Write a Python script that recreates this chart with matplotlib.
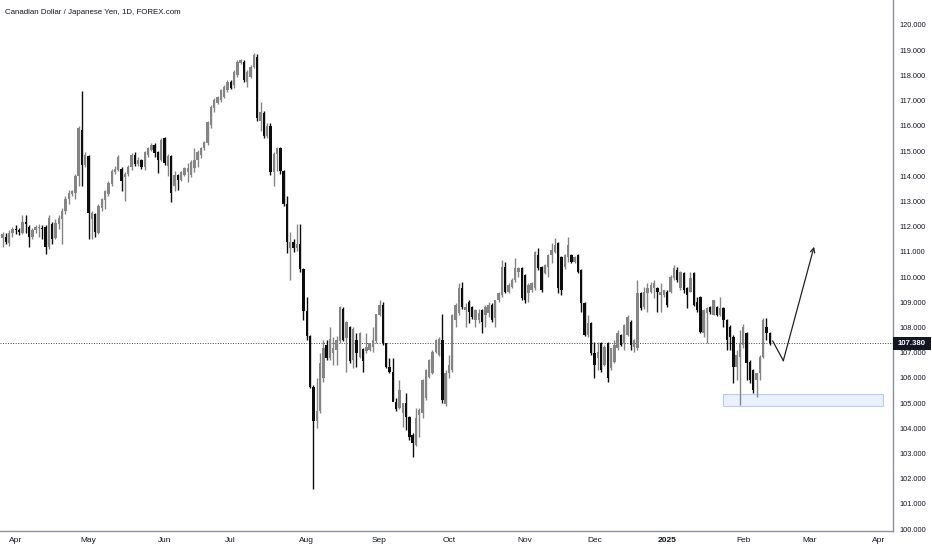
import numpy as np
import pandas as pd
import matplotlib
matplotlib.use("Agg")
import matplotlib.pyplot as plt
from matplotlib.patches import Rectangle

plt.rcParams['font.family'] = ['Liberation Sans', 'DejaVu Sans']

title = "Canadian Dollar / Japanese Yen, 1D, FOREX.com"
first_day = "2024-03-26"

# daily candles, one per weekday starting at first_day
opens = [111.55, 111.60, 111.35, 111.75, 111.90, 111.85, 111.75, 112.20, 112.00, 111.60,
         111.85, 111.95, 111.95, 112.00, 111.20, 112.10, 111.55, 112.10, 112.30, 112.60,
         113.10, 113.30, 113.35, 114.00, 115.85, 114.45, 114.80, 112.30, 112.50, 111.75,
         112.75, 113.05, 113.30, 113.70, 114.15, 114.25, 114.30, 113.95, 114.10, 114.35,
         114.84, 114.50, 114.64, 114.38, 114.84, 115.04, 115.24, 114.97, 114.64, 115.50,
         114.40, 114.80, 113.60, 114.05, 113.85, 114.05, 114.18, 114.05, 114.31, 114.64,
         114.84, 115.10, 115.30, 116.03, 116.69, 116.89, 117.02, 117.16, 117.42, 117.75,
         117.62, 118.02, 118.48, 118.55, 117.75, 117.95, 118.35, 118.74, 116.20, 116.50,
         115.60, 116.00, 114.15, 114.90, 115.10, 114.20, 112.90, 111.15, 111.40, 111.15,
         111.30, 110.30, 108.65, 107.65, 105.65, 104.30, 104.70, 106.00, 107.30, 106.77,
         106.97, 107.10, 107.45, 108.75, 107.57, 108.00, 106.70, 107.50, 106.84, 107.15,
         107.05, 107.10, 107.23, 107.45, 108.49, 108.89, 107.37, 106.44, 106.24, 105.05,
         104.79, 104.62, 104.99, 104.46, 103.73, 103.33, 104.52, 104.59, 105.18, 106.05,
         106.18, 107.03, 106.90, 107.50, 104.95, 106.20, 106.30, 108.29, 108.56, 109.55,
         108.69, 109.02, 108.82, 108.29, 108.29, 108.69, 108.49, 108.56, 108.89, 108.36,
         109.09, 109.29, 110.41, 109.42, 109.62, 109.88, 110.21, 110.34, 110.08, 109.35,
         109.48, 109.55, 110.87, 110.41, 110.15, 110.41, 110.87, 111.00, 111.34, 110.81,
         110.41, 110.81, 110.87, 110.61, 110.87, 110.28, 108.95, 107.70, 108.17, 106.97,
         106.77, 107.37, 106.51, 107.37, 106.37, 106.64, 107.17, 107.70, 107.37, 107.70,
         108.23, 107.24, 107.17, 109.35, 108.82, 109.35, 109.42, 109.55, 109.55, 109.29,
         109.29, 109.42, 109.42, 109.95, 110.28, 109.55, 110.15, 109.55, 109.42, 110.15,
         109.00, 109.22, 107.76, 108.56, 108.82, 108.49, 108.82, 108.49, 108.76, 108.29,
         108.03, 107.63, 106.44, 106.84, 107.30, 107.76, 106.64, 106.31, 105.91, 106.18,
         106.84, 108.03, 107.76]
highs = [111.80, 111.75, 111.85, 112.00, 112.05, 111.95, 112.45, 112.45, 112.05, 111.95,
         112.05, 112.10, 112.05, 112.05, 112.45, 112.20, 112.30, 112.45, 112.75, 113.20,
         113.45, 113.45, 114.10, 116.00, 117.40, 114.95, 114.85, 112.60, 112.55, 112.90,
         113.15, 113.45, 113.80, 114.30, 114.40, 114.85, 114.35, 114.15, 114.45, 114.91,
         114.95, 114.75, 114.70, 115.00, 115.15, 115.30, 115.30, 115.00, 115.50, 115.55,
         114.90, 114.85, 114.20, 114.10, 114.20, 114.35, 114.51, 114.64, 115.10, 115.04,
         115.17, 115.40, 116.20, 116.82, 117.09, 117.20, 117.45, 117.60, 117.80, 117.80,
         118.21, 118.60, 118.65, 118.60, 118.20, 118.40, 118.88, 118.85, 116.95, 116.60,
         116.10, 116.10, 114.95, 115.15, 115.15, 114.25, 113.20, 111.80, 111.50, 112.10,
         112.10, 110.35, 109.20, 107.70, 105.70, 106.00, 107.00, 107.50, 107.50, 108.03,
         107.60, 107.65, 108.85, 108.80, 108.25, 108.05, 108.00, 107.76, 107.80, 107.20,
         107.76, 107.40, 108.03, 108.55, 109.09, 109.02, 107.40, 106.77, 106.77, 105.20,
         105.90, 105.00, 105.38, 104.50, 103.80, 104.79, 104.80, 105.95, 106.35, 106.75,
         107.10, 107.55, 107.60, 108.55, 106.30, 106.90, 108.55, 108.95, 109.75, 109.80,
         108.95, 109.09, 108.85, 108.75, 108.75, 108.75, 108.90, 109.02, 108.95, 109.10,
         109.40, 110.67, 110.60, 109.75, 109.95, 110.74, 110.41, 110.40, 110.10, 109.75,
         109.82, 111.05, 111.14, 110.45, 110.50, 110.90, 111.34, 111.53, 111.40, 110.85,
         110.90, 111.60, 110.90, 110.85, 110.90, 110.30, 109.02, 108.49, 108.20, 107.44,
         107.44, 107.44, 107.30, 107.44, 107.20, 107.50, 107.90, 107.75, 108.15, 108.50,
         108.30, 107.55, 109.88, 109.40, 109.62, 109.75, 109.82, 109.88, 109.60, 109.75,
         109.50, 109.50, 110.08, 110.48, 110.41, 110.25, 110.20, 109.60, 110.21, 110.20,
         109.20, 109.25, 108.75, 108.82, 108.85, 109.10, 108.85, 109.22, 108.80, 108.35,
         108.10, 107.70, 107.10, 107.90, 108.15, 107.80, 106.70, 106.35, 106.20, 106.90,
         108.36, 108.36, 107.80]
lows = [111.20, 111.30, 111.25, 111.60, 111.70, 111.65, 111.70, 111.75, 111.20, 111.50,
        111.75, 111.60, 111.50, 110.90, 111.10, 111.30, 111.50, 111.90, 111.30, 112.50,
        112.90, 113.20, 113.10, 113.60, 113.60, 114.35, 111.50, 111.50, 111.60, 111.70,
        112.60, 112.70, 113.20, 113.60, 114.10, 114.20, 113.40, 113.00, 114.00, 114.25,
        114.40, 114.40, 114.30, 114.25, 114.75, 115.00, 114.77, 114.11, 114.60, 114.45,
        114.00, 112.99, 113.40, 113.45, 113.80, 114.00, 113.78, 113.98, 114.18, 114.38,
        114.71, 115.05, 115.25, 115.90, 116.56, 116.85, 116.95, 117.10, 117.35, 117.45,
        117.49, 117.95, 118.45, 117.75, 117.55, 117.90, 118.30, 116.20, 115.80, 115.50,
        115.50, 114.05, 113.60, 114.20, 114.10, 112.80, 110.95, 109.90, 111.00, 111.05,
        110.20, 108.30, 107.50, 105.60, 101.60, 104.00, 104.60, 105.85, 106.70, 106.70,
        106.50, 106.50, 107.40, 107.45, 106.25, 106.57, 106.40, 106.44, 106.80, 106.25,
        107.00, 107.05, 107.03, 107.40, 108.45, 107.30, 106.40, 106.18, 105.10, 104.70,
        104.75, 104.06, 103.93, 103.53, 102.87, 103.30, 103.66, 104.40, 105.10, 106.00,
        106.15, 107.00, 106.85, 105.00, 104.90, 106.00, 106.25, 108.03, 108.50, 108.75,
        108.03, 108.16, 108.35, 108.03, 108.16, 107.76, 108.03, 108.43, 108.23, 108.03,
        109.00, 109.20, 109.35, 109.35, 109.55, 109.80, 110.01, 109.10, 108.95, 109.02,
        109.40, 109.50, 110.28, 109.40, 110.10, 110.01, 110.54, 110.95, 109.35, 109.29,
        110.30, 110.60, 110.55, 110.55, 110.15, 108.62, 107.65, 107.60, 106.90, 105.98,
        106.31, 106.24, 106.45, 105.85, 106.30, 106.60, 107.10, 107.25, 107.10, 107.65,
        107.10, 107.04, 107.10, 108.70, 108.75, 108.62, 109.35, 109.15, 108.62, 108.62,
        109.20, 108.82, 109.35, 109.90, 109.80, 109.50, 109.35, 108.76, 109.40, 108.85,
        108.60, 107.76, 107.63, 107.37, 108.55, 108.49, 108.45, 108.45, 108.00, 107.10,
        107.10, 105.78, 105.90, 104.92, 107.20, 105.91, 105.78, 105.38, 105.25, 105.91,
        106.80, 107.50, 107.30]
closes = [111.70, 111.40, 111.75, 111.90, 111.85, 111.80, 112.20, 112.10, 111.60, 111.85,
          112.00, 112.00, 111.90, 111.20, 112.35, 111.50, 112.15, 112.35, 112.60, 113.10,
          113.35, 113.40, 114.00, 115.90, 114.45, 114.85, 112.55, 112.55, 111.80, 112.80,
          113.10, 113.40, 113.75, 114.20, 114.30, 114.75, 113.80, 114.10, 114.35, 114.84,
          114.50, 114.64, 114.38, 114.97, 115.10, 115.24, 114.91, 114.64, 115.44, 114.51,
          114.80, 113.32, 114.05, 113.85, 114.18, 114.31, 114.31, 114.58, 114.64, 114.97,
          115.10, 115.37, 116.16, 116.76, 117.02, 117.16, 117.42, 117.55, 117.75, 117.49,
          118.15, 118.55, 118.61, 117.82, 118.15, 118.35, 118.81, 116.30, 116.55, 115.60,
          116.00, 114.15, 114.90, 115.10, 114.20, 112.90, 111.40, 111.40, 111.15, 111.30,
          110.30, 108.65, 107.65, 105.65, 104.30, 104.70, 106.60, 107.20, 106.77, 107.55,
          107.20, 107.50, 108.82, 107.50, 108.20, 106.65, 107.95, 106.97, 107.76, 106.65,
          107.23, 107.37, 107.50, 108.55, 108.89, 107.37, 106.44, 106.24, 105.05, 104.75,
          105.52, 104.99, 104.46, 103.66, 103.40, 104.39, 104.72, 105.91, 106.31, 106.71,
          107.03, 107.50, 107.55, 105.12, 106.20, 106.50, 108.49, 108.89, 109.55, 108.82,
          108.82, 108.62, 108.43, 108.69, 108.56, 108.23, 108.82, 108.89, 108.29, 109.09,
          109.35, 110.41, 109.42, 109.68, 109.88, 110.34, 110.34, 109.15, 109.09, 109.68,
          109.75, 111.00, 110.34, 109.48, 110.47, 110.87, 111.07, 111.27, 109.55, 109.48,
          110.87, 111.27, 110.61, 110.81, 110.21, 108.95, 107.70, 108.17, 106.97, 106.51,
          107.04, 106.31, 107.24, 105.98, 107.17, 107.30, 107.76, 107.30, 108.10, 108.43,
          107.30, 107.50, 109.35, 108.76, 109.42, 109.55, 109.68, 109.75, 109.42, 109.42,
          109.48, 108.89, 110.01, 110.34, 109.88, 110.21, 109.48, 109.29, 109.95, 108.89,
          108.70, 107.83, 108.69, 108.76, 108.62, 109.09, 108.49, 108.76, 108.29, 107.50,
          107.63, 106.44, 106.90, 107.37, 108.03, 106.57, 105.91, 105.52, 106.18, 106.84,
          108.29, 107.76, 107.38]

last_price = 107.380
price_ticks = list(range(100, 121))

# drawing on the chart: demand zone and projected path (bar position, price)
zone_bars = [217.8, 266.2]
zone_prices = [104.88, 105.36]
path_bars = [232.9, 236.1, 245.4]
path_prices = [107.46, 106.68, 111.20]

W, H = 932, 550
plot_right, plot_bottom = 893, 531

up_col = "#858585"
dn_col = "#0d0d0d"
text_col = "#131722"

fig = plt.figure(figsize=(W / 100, H / 100), dpi=100)
ax = fig.add_axes([0, 1 - plot_bottom / H, plot_right / W, plot_bottom / H])

o = np.array(opens)
hi = np.array(highs)
lo = np.array(lows)
c = np.array(closes)
x = np.arange(len(o))
up = c >= o
cols = np.where(up, up_col, dn_col)

ax.vlines(x, lo, hi, colors=cols, lw=1.0, zorder=2)
ax.bar(x, np.maximum(np.abs(c - o), 0.05), bottom=np.minimum(o, c), width=0.72,
       color=cols, linewidth=0, zorder=3)

# current price line
ax.axhline(last_price, color="#444444", lw=0.7, ls=(0, (1, 1.6)), zorder=1)

# zone + projection
ax.add_patch(Rectangle((zone_bars[0], zone_prices[0]), zone_bars[1] - zone_bars[0],
                       zone_prices[1] - zone_prices[0], facecolor="#eaf0fd",
                       edgecolor="#b9cbf5", lw=0.8, zorder=1))
ax.plot(path_bars[:2], path_prices[:2], color="#222222", lw=0.9, zorder=4)
ax.annotate("", xy=(path_bars[2], path_prices[2]), xytext=(path_bars[1], path_prices[1]),
            arrowprops=dict(arrowstyle="->", color="#222222", lw=0.9,
                            shrinkA=0, shrinkB=0, mutation_scale=8), zorder=4)

ax.set_xlim(-0.777, 269.27)
ax.set_ylim(99.921, 120.992)

# month ticks
cal = pd.bdate_range(first_day, "2025-04-30")
months = cal.to_period("M")
starts = [i for i in range(1, len(cal)) if months[i] != months[i - 1]]
labels = ["2025" if cal[i].month == 1 else cal[i].strftime("%b") for i in starts]
ax.set_xticks(starts)
ax.set_xticklabels(labels)
for lab in ax.get_xticklabels():
    if lab.get_text() == "2025":
        lab.set_fontweight("bold")

ax.yaxis.tick_right()
ax.set_yticks(price_ticks)
ax.set_yticklabels([f"{v:.3f}" for v in price_ticks])
ax.tick_params(axis="y", length=0, pad=4.3, labelsize=5.3, labelcolor=text_col)
ax.tick_params(axis="x", length=0, pad=4.0, labelsize=6.0, labelcolor=text_col)

for s in ["top", "left"]:
    ax.spines[s].set_visible(False)
for s in ["right", "bottom"]:
    ax.spines[s].set_color("#8f929a")
    ax.spines[s].set_linewidth(1.0)

# last price tag on the axis
fig.canvas.draw()
py = ax.transData.transform((0, last_price))[1]
fig.add_artist(Rectangle((plot_right / W, (py - 6.5) / H), 38 / W, 13 / H,
                         transform=fig.transFigure, facecolor=text_col,
                         edgecolor="none", zorder=5))
fig.text((plot_right + 19) / W, py / H, f"{last_price:.3f}", color="white",
         fontsize=5.6, fontweight="bold", ha="center", va="center", zorder=6)

fig.text(5 / W, 1 - 12 / H, title, fontsize=5.7, color=text_col, ha="left", va="center",
         family=["Liberation Sans Narrow", "Liberation Sans", "DejaVu Sans"])

fig.savefig("out.png", dpi=100)
